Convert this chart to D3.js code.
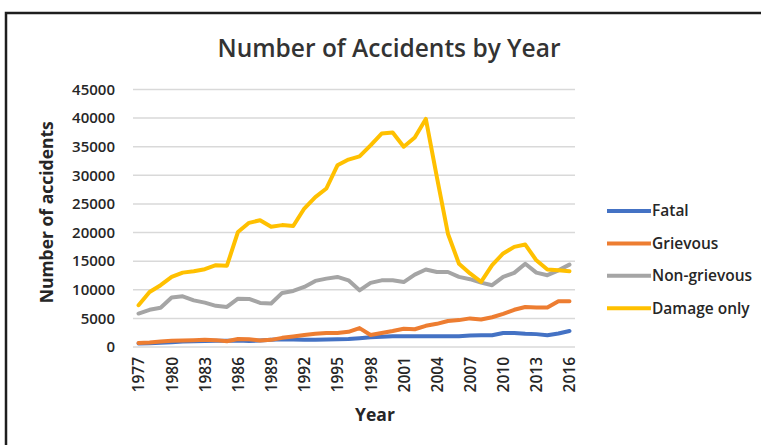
<!DOCTYPE html>
<html>
<head>
<meta charset="utf-8">
<script src="https://cdn.jsdelivr.net/npm/d3@7"></script>
<style>
  html, body { margin: 0; padding: 0; background: #fff; }
  svg { display: block; font-family: "Open Sans", "DejaVu Sans", sans-serif; }
</style>
</head>
<body>
<svg id="chart" width="761" height="445"></svg>
<script>
// Accident counts per year, 1977–2016
const years = d3.range(1977, 2017);
const fatal = [600, 650, 750, 850, 950, 1000, 1050, 1100, 1100, 1150,
  1050, 1150, 1250, 1350, 1300, 1250, 1250, 1300, 1350, 1400,
  1550, 1700, 1800, 1900, 1900, 1900, 1900, 1900, 1900, 1900,
  2000, 2050, 2050, 2450, 2450, 2300, 2250, 2050, 2350, 2800];
const grievous = [700, 800, 950, 1100, 1150, 1200, 1250, 1200, 1000, 1400,
  1350, 1150, 1250, 1600, 1850, 2100, 2300, 2450, 2450, 2650,
  3300, 2100, 2450, 2800, 3200, 3100, 3700, 4050, 4550, 4700,
  5000, 4800, 5200, 5800, 6500, 7000, 6900, 6900, 8000, 8000];
const nonGrievous = [5850, 6500, 6850, 8650, 8850, 8150, 7750, 7200, 7000, 8450,
  8400, 7700, 7600, 9450, 9800, 10500, 11550, 11950, 12250, 11650,
  9900, 11200, 11650, 11650, 11350, 12650, 13550, 13100, 13100, 12250,
  11850, 11250, 10800, 12250, 12950, 14550, 13000, 12550, 13400, 14400];
const damageOnly = [7300, 9600, 10800, 12250, 13000, 13250, 13600, 14300, 14200, 20100,
  21700, 22150, 21000, 21300, 21150, 24200, 26200, 27700, 31750, 32750,
  33300, 35250, 37300, 37500, 35000, 36600, 39850, 29700, 19800, 14550,
  12850, 11400, 14300, 16350, 17500, 17900, 15150, 13550, 13400, 13250];

const seriesNames = ["Fatal", "Grievous", "Non-grievous", "Damage only"];
const seriesColors = ["#4472C4", "#ED7D31", "#A5A5A5", "#FFC000"];
const seriesValues = [fatal, grievous, nonGrievous, damageOnly];
const yTicks = d3.range(0, 45001, 5000);
const xTickYears = years.filter((y, i) => i % 3 === 0);

const svg = d3.select("#chart");

// outer frame
svg.append("rect")
  .attr("x", 6).attr("y", 13)
  .attr("width", 800).attr("height", 500)
  .attr("fill", "none")
  .attr("stroke", "#1e1e1e")
  .attr("stroke-width", 2.5);

const plot = { left: 133, right: 575, top: 89.5, bottom: 347 };

const x = d3.scalePoint()
  .domain(years)
  .range([plot.left, plot.right])
  .padding(0.5);

const y = d3.scaleLinear()
  .domain([0, 45000])
  .range([plot.bottom, plot.top]);

// horizontal gridlines
svg.append("g")
  .selectAll("line")
  .data(yTicks)
  .join("line")
  .attr("x1", plot.left).attr("x2", plot.right)
  .attr("y1", d => y(d)).attr("y2", d => y(d))
  .attr("stroke", "#d9d9d9")
  .attr("stroke-width", 1.5);

// y axis labels
const yAxis = d3.axisLeft(y).tickValues(yTicks).tickSize(0).tickPadding(0).tickFormat(d3.format("d"));
svg.append("g")
  .attr("transform", `translate(${plot.left - 18},0)`)
  .call(yAxis)
  .call(g => g.select(".domain").remove())
  .selectAll("text")
  .attr("fill", "#262626")
  .attr("font-size", 15)
  .attr("font-weight", 600)
  .attr("font-family", "Open Sans, sans-serif");

// x axis labels, rotated
const xAxis = d3.axisBottom(x).tickValues(xTickYears).tickSize(0).tickPadding(0);
svg.append("g")
  .attr("transform", `translate(0,${plot.bottom})`)
  .call(xAxis)
  .call(g => g.select(".domain").remove())
  .selectAll("text")
  .attr("fill", "#262626")
  .attr("font-size", 15.5)
  .attr("font-weight", 600)
  .attr("font-family", "Open Sans, sans-serif")
  .attr("text-anchor", "end")
  .attr("dy", "0.35em")
  .attr("transform", "translate(0,10) rotate(-90)")
  .attr("x", 0).attr("y", 0);

// series lines
const line = d3.line()
  .x((d, i) => x(years[i]))
  .y(d => y(d));

svg.append("g")
  .selectAll("path")
  .data(seriesValues)
  .join("path")
  .attr("d", d => line(d))
  .attr("fill", "none")
  .attr("stroke", (d, i) => seriesColors[i])
  .attr("stroke-width", 4)
  .attr("stroke-linejoin", "round")
  .attr("stroke-linecap", "round");

// title
svg.append("text")
  .attr("x", 389).attr("y", 57)
  .attr("text-anchor", "middle")
  .attr("font-size", 24.5)
  .attr("font-weight", 600)
  .attr("fill", "#333")
  .text("Number of Accidents by Year");

// axis titles
svg.append("text")
  .attr("transform", `translate(53,${(plot.top + plot.bottom) / 2 - 6}) rotate(-90)`)
  .attr("text-anchor", "middle")
  .attr("font-size", 17.5)
  .attr("font-weight", 700)
  .attr("fill", "#262626")
  .text("Number of accidents");

svg.append("text")
  .attr("x", (plot.left + plot.right) / 2 + 21).attr("y", 421)
  .attr("text-anchor", "middle")
  .attr("font-size", 17.5)
  .attr("font-weight", 700)
  .attr("fill", "#262626")
  .text("Year");

// legend
const legend = svg.append("g")
  .selectAll("g")
  .data(seriesNames)
  .join("g")
  .attr("transform", (d, i) => `translate(607,${211 + i * 32.4})`);

legend.append("line")
  .attr("x1", 0).attr("x2", 44)
  .attr("y1", 0).attr("y2", 0)
  .attr("stroke", (d, i) => seriesColors[i])
  .attr("stroke-width", 4);

legend.append("text")
  .attr("x", 45).attr("y", 0)
  .attr("dy", "0.35em")
  .attr("font-size", 15.5)
  .attr("font-weight", 600)
  .attr("fill", "#262626")
  .text(d => d);
</script>
</body>
</html>
